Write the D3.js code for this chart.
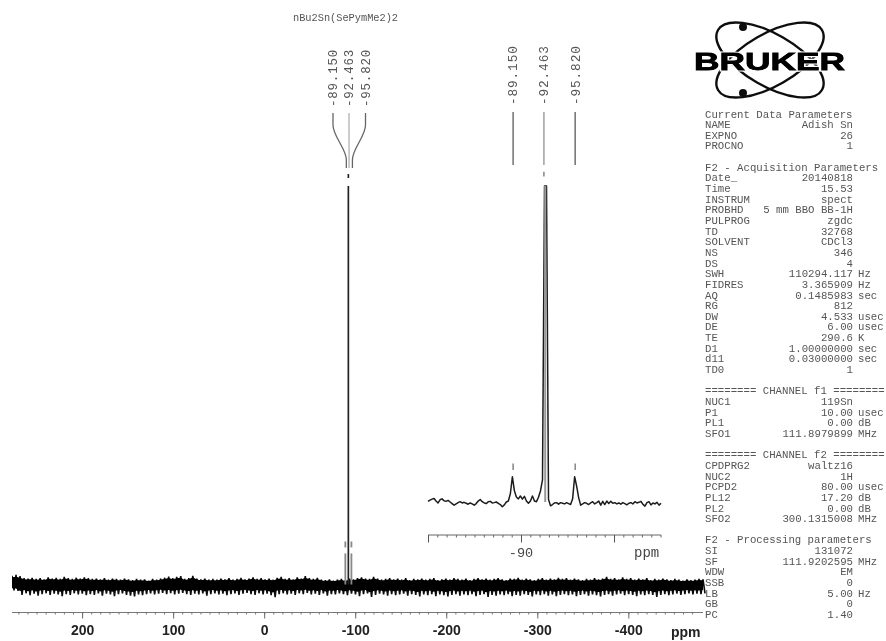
<!DOCTYPE html>
<html><head><meta charset="utf-8">
<script src="https://cdn.jsdelivr.net/npm/d3@7"></script>
<style>html,body{margin:0;padding:0;background:#fff}svg{display:block}</style>
</head><body><div id="c"></div>
<script>
const W = 886, H = 641;
const title = "nBu2Sn(SePymMe2)2";
const peakLabels = ["-89.150", "-92.463", "-95.820"];
const peakPpm = [-89.15, -92.463, -95.82];

// main spectrum, estimated noise envelope (intensity units, peak = 100)
const noiseHi = [
2.2,2.4,2.1,1.6,1.5,1.7,1.4,1.6,1.3,1.8,1.5,1.7,1.4,1.9,1.6,1.4,1.7,1.5,1.8,1.6,
1.4,1.5,1.3,1.6,1.2,1.5,1.4,1.2,1.5,1.3,1.1,1.4,1.2,1.3,1.0,1.4,1.2,1.5,1.7,2.0,
1.6,1.9,2.1,1.4,1.6,2.2,1.5,1.3,1.5,1.2,1.4,1.2,1.5,1.3,1.6,1.2,1.4,1.7,1.3,1.5,
1.8,1.4,1.6,1.3,1.5,1.2,1.7,1.9,1.4,1.6,1.3,1.8,1.5,2.1,1.6,1.4,1.7,1.2,1.1,1.3,
1.0,1.2,1.4,1.1,1.5,1.3,1.6,1.8,1.5,1.4,1.9,1.5,1.2,1.4,1.6,1.3,1.5,1.2,1.6,1.1,
1.4,1.3,1.5,1.2,1.4,1.6,1.1,1.3,1.5,1.2,1.6,1.4,1.2,1.5,1.1,1.4,1.6,1.3,1.5,1.2,
1.4,1.6,1.3,1.1,1.5,1.4,1.7,1.2,1.5,1.3,1.1,1.4,1.6,1.2,1.5,1.3,1.7,1.4,1.6,1.2,
1.5,1.3,1.1,1.4,1.2,1.6,1.3,1.5,1.9,1.4,1.6,1.3,1.8,1.4,1.6,1.2,1.5,1.3,1.6,1.1,
1.4,1.2,1.5,1.3,1.1,1.4,1.2,1.0,1.3,1.1,1.2,1.4,1.3];
const noiseLo = [
-1.5,-1.6,-2.6,-2.2,-2.7,-2.3,-2.8,-2.4,-2.2,-2.6,-2.3,-2.5,-2.9,-2.4,-2.6,-2.2,-2.5,-2.3,-2.7,-2.4,
-2.6,-2.2,-2.8,-2.3,-2.5,-2.9,-2.4,-2.2,-2.6,-2.8,-3.0,-2.5,-2.7,-2.4,-2.2,-2.5,-2.3,-2.1,-2.4,-2.2,
-2.5,-2.3,-2.1,-2.4,-2.6,-2.3,-2.5,-2.2,-2.8,-2.4,-2.2,-2.5,-2.3,-2.7,-2.4,-2.2,-2.6,-2.3,-2.1,-2.4,
-2.6,-2.2,-2.5,-2.3,-2.7,-3.2,-2.4,-2.2,-2.5,-2.3,-2.6,-2.2,-2.4,-2.1,-2.5,-2.3,-2.6,-2.2,-2.8,-2.4,
-2.5,-2.2,-2.4,-2.7,-2.3,-2.5,-2.9,-2.4,-2.2,-3.1,-2.6,-2.3,-2.5,-2.8,-2.4,-2.7,-2.5,-2.3,-2.8,-2.4,
-2.6,-3.0,-2.5,-2.7,-2.4,-2.9,-2.5,-2.7,-3.0,-2.6,-2.4,-2.8,-2.5,-2.7,-2.4,-2.9,-2.6,-2.4,-3.1,-2.6,
-2.8,-2.5,-2.7,-2.4,-2.9,-2.6,-2.8,-2.4,-2.6,-3.0,-2.5,-2.7,-2.4,-2.8,-2.5,-2.9,-2.6,-2.4,-2.7,-2.5,
-2.9,-2.6,-2.4,-2.8,-2.5,-2.7,-3.0,-2.6,-2.4,-2.8,-2.5,-2.3,-2.7,-2.4,-2.6,-2.9,-2.5,-2.7,-2.4,-2.6,
-3.1,-2.6,-2.4,-2.7,-2.5,-2.3,-2.6,-2.4,-2.2,-2.5,-2.3,-2.4,-2.2];

// main peak fragments (printed as broken strokes): ppm, low, high
const mainFragPpm = [-92.463, -92.463, -89.15, -89.15, -95.82, -95.82];
const mainFragLo  = [0, 102, 0, 9.3, 0, 9.3];
const mainFragHi  = [100, 103, 7.8, 10.8, 7.8, 10.8];

// expanded trace, left to right, -80 to -105 ppm
const insetTrace = [
0.2,0.6,0.9,1.1,0.3,-0.3,0.7,1.0,0.4,0.2,0.5,0.0,-0.5,-1.0,-0.6,-0.2,0.1,-0.3,-0.1,-0.4,
-0.7,-0.3,-0.6,-1.0,-0.5,0.3,0.8,0.1,-0.3,-0.5,0.1,0.2,-0.3,-0.2,0.0,-0.4,-0.8,-1.5,-0.9,0.0,
0.3,2.6,8.0,3.6,1.6,1.0,1.9,0.9,1.8,0.3,-0.4,0.3,1.9,0.3,0.1,1.5,3.5,7.0,100,100,
0.8,-1.2,-0.8,-0.3,-0.2,-0.7,-0.2,-0.4,-0.6,-0.2,-0.5,-0.8,1.0,8.0,5.0,1.4,-1.0,-0.6,-0.2,-0.4,
-0.8,-0.3,0.1,-0.6,-0.2,0.3,-1.0,0.2,-0.8,0.3,-0.5,0.2,-0.4,-0.2,-0.6,-0.3,-0.7,-0.2,-0.5,-0.9,
-0.4,-0.2,-0.6,0.1,-0.3,-0.1,0.2,-0.7,-1.3,-0.2,0.1,-0.9,-0.3,-0.6,-0.1,-1.0,-0.4];
const insetFragPpm = [-89.15, -92.463, -95.82, -92.6];
const insetFragLo = [10.1, 103, 10.1, 0];
const insetFragHi = [12.2, 104.5, 12.2, 100];

const mainTicks = [200, 100, 0, -100, -200, -300, -400];
const insetTicks = [-90];

// acquisition parameters: label, value, unit (grouped by line number)
const paramLine = [0,1,2,3,5,6,7,8,9,10,11,12,13,14,15,16,17,18,19,20,21,22,23,24,27,28,29,30,33,34,35,36,37,38,41,42,43,44,45,46,47];
const paramName = ["Current Data Parameters","NAME","EXPNO","PROCNO","F2 - Acquisition Parameters","Date_","Time","INSTRUM","PROBHD","PULPROG","TD","SOLVENT","NS","DS","SWH","FIDRES","AQ","RG","DW","DE","TE","D1","d11","TD0","NUC1","P1","PL1","SFO1","CPDPRG2","NUC2","PCPD2","PL12","PL2","SFO2","SI","SF","WDW","SSB","LB","GB","PC"];
const paramValue = ["","Adish Sn","26","1","","20140818","15.53","spect","5 mm BBO BB-1H","zgdc","32768","CDCl3","346","4","110294.117","3.365909","0.1485983","812","4.533","6.00","290.6","1.00000000","0.03000000","1","119Sn","10.00","0.00","111.8979899","waltz16","1H","80.00","17.20","0.00","300.1315008","131072","111.9202595","EM","0","5.00","0","1.40"];
const paramUnit = ["","","","","","","","","","","","","","","Hz","Hz","sec","","usec","usec","K","sec","sec","","","usec","dB","MHz","","","usec","dB","dB","MHz","","MHz","","","Hz","",""];
const headerLine = [26, 32, 40];
const headerText = ["======== CHANNEL f1 ========","======== CHANNEL f2 ========","F2 - Processing parameters"];

const svg = d3.select("#c").append("svg").attr("width", W).attr("height", H).attr("viewBox", `0 0 ${W} ${H}`);
svg.append("rect").attr("width", W).attr("height", H).attr("fill", "#fff");
const defs = svg.append("defs");
defs.append("filter").attr("id", "soft").attr("x", "0").attr("y", "0").attr("width", "100%").attr("height", "100%")
  .append("feGaussianBlur").attr("stdDeviation", 0.6);
const g = svg.append("g").attr("filter", "url(#soft)");

const MONO = "'Liberation Mono','DejaVu Sans Mono',monospace";
const SANS = "'Liberation Sans',Arial,sans-serif";

// ---------- main spectrum
const x = d3.scaleLinear().domain([277, -482]).range([12, 703]);
const y = d3.scaleLinear().domain([0, 100]).range([584.5, 186]);
const idx = d3.scaleLinear().domain([0, noiseHi.length - 1]).range(x.domain());

const zig = noiseHi.flatMap((h, i) => [[idx(i), h], [idx(i + 0.5), noiseLo[i]]]);
g.append("path").attr("d", d3.line().x(d => x(d[0])).y(d => y(d[1]))(zig))
  .attr("fill", "none").attr("stroke", "#0a0a0a").attr("stroke-width", 1.6);
g.append("path").attr("d", d3.area().x((d, i) => x(idx(i))).y0((d, i) => y(noiseLo[i] * 0.62)).y1(d => y(d * 0.82))(noiseHi))
  .attr("fill", "#000");

mainFragPpm.forEach((p, i) => {
  const centre = p === peakPpm[1];
  g.append("line").attr("x1", x(p)).attr("x2", x(p)).attr("y1", y(mainFragLo[i])).attr("y2", y(mainFragHi[i]))
    .attr("stroke", centre ? "#222" : "#888").attr("stroke-width", centre ? 1.7 : 1.8);
});

// main axis
const axisY = 612.5;
const axisLine = g.append("g").attr("transform", `translate(0,${axisY})`);
axisLine.append("line").attr("x1", x.range()[0]).attr("x2", x.range()[1]).attr("stroke", "#777").attr("stroke-width", 1);
const minorMain = d3.range(270, -480, -10);
axisLine.call(d3.axisBottom(x).tickValues(minorMain).tickSize(2).tickFormat(""))
  .call(a => a.select(".domain").remove())
  .call(a => a.selectAll("line").attr("stroke", "#777"));
const majorMain = g.append("g").attr("transform", `translate(0,${axisY})`);
majorMain.call(d3.axisBottom(x).tickValues(mainTicks).tickSize(6).tickPadding(7).tickFormat(d => String(d)))
  .call(a => a.select(".domain").remove())
  .call(a => a.selectAll("line").attr("stroke", "#666"))
  .call(a => a.selectAll("text").attr("font-family", SANS).attr("font-weight", "bold").attr("font-size", 14).attr("fill", "#222"));
g.append("text").attr("x", 671).attr("y", 637).text("ppm")
  .attr("font-family", SANS).attr("font-weight", "bold").attr("font-size", 14).attr("fill", "#222");

// ---------- inset
const xi = d3.scaleLinear().domain([-80, -105.05]).range([428, 661]);
const yi = d3.scaleLinear().domain([0, 100]).range([502, 186]);
const idxI = d3.scaleLinear().domain([0, insetTrace.length - 1]).range(xi.domain());
g.append("path").attr("d", d3.line().x((d, i) => xi(idxI(i))).y(d => yi(d))(insetTrace))
  .attr("fill", "none").attr("stroke", "#1c1c1c").attr("stroke-width", 1.5).attr("stroke-linejoin", "round");
insetFragPpm.forEach((p, i) => {
  g.append("line").attr("x1", xi(p)).attr("x2", xi(p)).attr("y1", yi(insetFragLo[i])).attr("y2", yi(insetFragHi[i]))
    .attr("stroke", i === 3 ? "#999" : "#666").attr("stroke-width", i === 3 ? 2 : 1.2);
});
const insetAxisY = 535;
const ia = g.append("g").attr("transform", `translate(0,${insetAxisY})`);
ia.append("line").attr("x1", xi.range()[0]).attr("x2", xi.range()[1]).attr("stroke", "#666");
ia.call(d3.axisBottom(xi).tickValues(d3.range(-80, -105.5, -1)).tickSize(2.5).tickFormat(""))
  .call(a => a.select(".domain").remove()).call(a => a.selectAll("line").attr("stroke", "#666"));
const ib = g.append("g").attr("transform", `translate(0,${insetAxisY})`);
ib.call(d3.axisBottom(xi).tickValues([-80, -90, -100]).tickSize(7.5).tickPadding(0).tickFormat(""))
  .call(a => a.select(".domain").remove()).call(a => a.selectAll("line").attr("stroke", "#555"));
insetTicks.forEach(t => g.append("text").attr("x", xi(t)).attr("y", 557).attr("text-anchor", "middle").text("-" + Math.abs(t))
  .attr("font-family", MONO).attr("font-size", 13.5).attr("fill", "#444"));
g.append("text").attr("x", 634).attr("y", 557).text("ppm").attr("font-family", MONO).attr("font-size", 14).attr("fill", "#444");

// ---------- peak labels, left group
const labelX = [333, 349, 365.5];
const connect = d3.line().curve(d3.curveMonotoneY);
peakLabels.forEach((t, i) => {
  g.append("text").attr("transform", `translate(${labelX[i]},107) rotate(-90)`).attr("dy", "0.34em").text(t)
    .attr("font-family", MONO).attr("font-size", 12.4).attr("letter-spacing", 0.85).attr("fill", "#555");
  const end = x(peakPpm[i]) + (i === 0 ? 1 : i === 2 ? 1 : 0.7);
  g.append("path").attr("d", connect([[labelX[i], 113], [labelX[i], 125], [end, 160], [end, 168]]))
    .attr("fill", "none").attr("stroke", i === 1 ? "#999" : "#666").attr("stroke-width", i === 1 ? 1 : 1.3);
});
// ---------- peak labels, inset group
peakLabels.forEach((t, i) => {
  const px = xi(peakPpm[i]);
  g.append("text").attr("transform", `translate(${px},105) rotate(-90)`).attr("dy", "0.34em").text(t)
    .attr("font-family", MONO).attr("font-size", 12.8).attr("letter-spacing", 0.85).attr("fill", "#555");
  g.append("line").attr("x1", px).attr("x2", px).attr("y1", 112).attr("y2", 165)
    .attr("stroke", i === 1 ? "#999" : "#666").attr("stroke-width", 1.4);
});

// ---------- title
g.append("text").attr("x", 293).attr("y", 21).text(title).attr("font-family", MONO).attr("font-size", 10.3).attr("fill", "#555");

// ---------- logo
const logo = g.append("g");
[30, -30].forEach(a => logo.append("ellipse").attr("cx", 770).attr("cy", 60).attr("rx", 60).attr("ry", 26)
  .attr("transform", `rotate(${a} 770 60)`).attr("fill", "none").attr("stroke", "#111").attr("stroke-width", 2.4));
[27, 93].forEach(cy => logo.append("circle").attr("cx", 743).attr("cy", cy).attr("r", 4).attr("fill", "#111"));
logo.append("text").attr("x", 694).attr("y", 70).text("BRUKER").attr("textLength", 151).attr("lengthAdjust", "spacingAndGlyphs")
  .attr("font-family", SANS).attr("font-weight", "bold").attr("font-size", 24.5).attr("fill", "#000")
  .attr("stroke", "#fff").attr("stroke-width", 3).attr("paint-order", "stroke");
logo.append("text").attr("x", 694).attr("y", 70).text("BRUKER").attr("textLength", 151).attr("lengthAdjust", "spacingAndGlyphs")
  .attr("font-family", SANS).attr("font-weight", "bold").attr("font-size", 24.5).attr("fill", "#000")
  .attr("stroke", "#000").attr("stroke-width", 0.8);

// ---------- parameter block
const lineY = d3.scaleLinear().domain([0, 47]).range([117.5, 618]);
const pg = g.append("g").attr("font-family", MONO).attr("font-size", 10.7).attr("fill", "#555");
paramName.forEach((n, i) => {
  const yy = lineY(paramLine[i]);
  pg.append("text").attr("x", 705).attr("y", yy).text(n);
  if (paramValue[i]) pg.append("text").attr("x", 853).attr("y", yy).attr("text-anchor", "end").text(paramValue[i]);
  if (paramUnit[i]) pg.append("text").attr("x", 858).attr("y", yy).text(paramUnit[i]);
});
headerText.forEach((t, i) => pg.append("text").attr("x", 705).attr("y", lineY(headerLine[i])).text(t));
</script></body></html>
